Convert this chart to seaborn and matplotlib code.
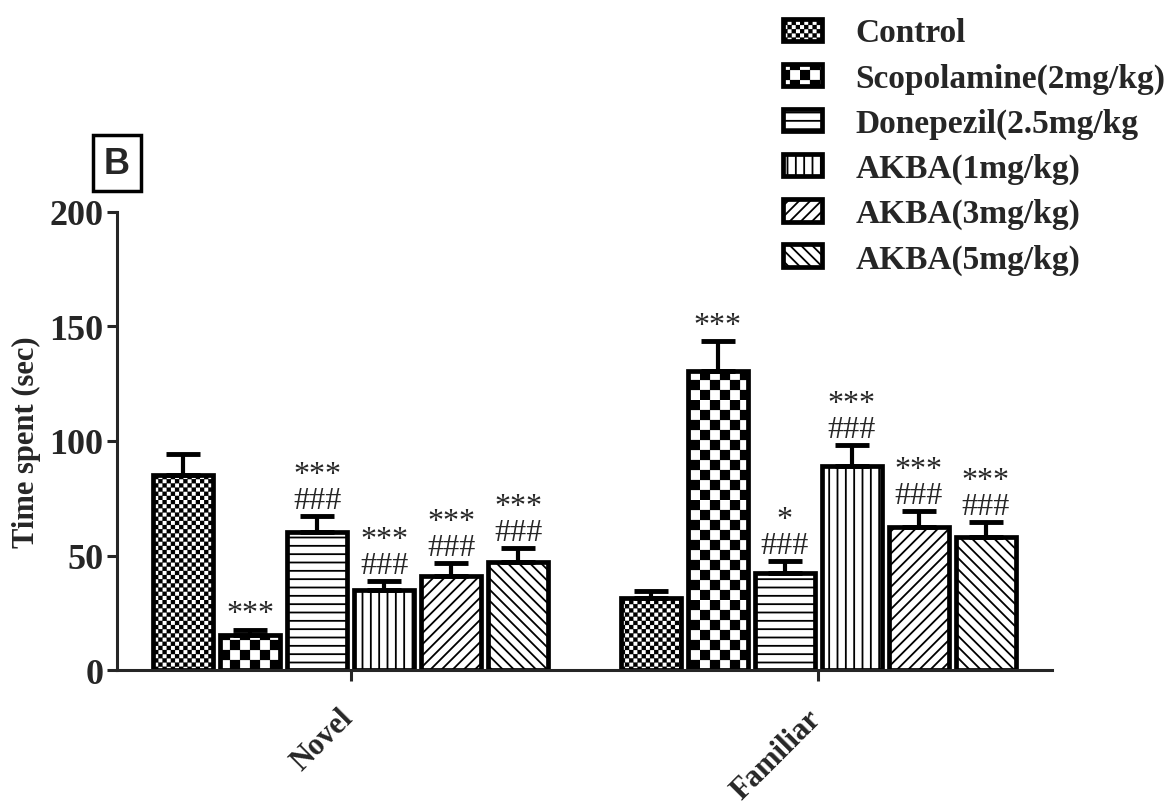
import numpy as np
import pandas as pd
import matplotlib
matplotlib.use('Agg')
import matplotlib.hatch as mhatch
import matplotlib.transforms as mtransforms
from matplotlib.path import Path
from matplotlib import pyplot as plt
import seaborn as sns

groups = ['Control', 'Scopolamine(2mg/kg)', 'Donepezil(2.5mg/kg', 'AKBA(1mg/kg)', 'AKBA(3mg/kg)', 'AKBA(5mg/kg)']
tests = ['Novel', 'Familiar']
novel_mean = [85.2, 15.3, 60.3, 35.0, 41.0, 47.2]
novel_sem = [9.1, 2.3, 6.9, 3.9, 5.7, 6.1]
familiar_mean = [31.4, 130.6, 42.4, 89.1, 62.4, 58.1]
familiar_sem = [3.1, 13.1, 5.2, 9.2, 7.0, 6.5]
novel_marks = ['', '***', '***\n###', '***\n###', '***\n###', '***\n###']
familiar_marks = ['', '***', '*\n###', '***\n###', '***\n###', '***\n###']
hatches = ['o', 'O', '--', '||', '///', '\\\\\\']


# checkerboard hatch: 'o' fine, 'O' coarse (replaces the circle hatches)
class CheckerHatch(mhatch.HatchPatternBase):
    def __init__(self, hatch, density):
        self.n = 0
        if 'o' in hatch:
            self.n = 24
        elif 'O' in hatch:
            self.n = 10
        self.cells = [(i, j) for i in range(self.n) for j in range(self.n) if (i + j) % 2 == 0]
        self.num_vertices = 5 * len(self.cells)

    def set_vertices_and_codes(self, vertices, codes):
        s = 1.0 / self.n
        d = 0.008
        for k, (i, j) in enumerate(self.cells):
            x0, y0 = i * s + d, j * s + d
            x1, y1 = (i + 1) * s - d, (j + 1) * s - d
            vertices[5 * k:5 * k + 5] = [(x0, y0), (x1, y0), (x1, y1), (x0, y1), (x0, y0)]
            codes[5 * k:5 * k + 5] = [Path.MOVETO, Path.LINETO, Path.LINETO, Path.LINETO, Path.CLOSEPOLY]


mhatch._hatch_types = [t for t in mhatch._hatch_types
                       if t not in (mhatch.SmallCircles, mhatch.LargeCircles)] + [CheckerHatch]

sns.set_style('ticks')
plt.rcParams['font.family'] = ['Liberation Serif', 'DejaVu Serif']
plt.rcParams['font.weight'] = 'bold'
plt.rcParams['hatch.linewidth'] = 1.3
plt.rcParams['hatch.color'] = 'black'

df = pd.DataFrame({
    'test': np.repeat(tests, len(groups)),
    'group': groups * len(tests),
    'time': novel_mean + familiar_mean,
})

fig, ax = plt.subplots(figsize=(11.69, 8.04), dpi=100)
ax.set_position([0.1001, 0.1654, 0.7998, 0.5697])

sns.barplot(data=df, x='test', y='time', hue='group', order=tests, hue_order=groups,
            palette=['white'] * len(groups), edgecolor='black', linewidth=3.4,
            width=0.86, gap=0.1, errorbar=None, legend=False, ax=ax)

means = np.array([novel_mean, familiar_mean])
sems = np.array([novel_sem, familiar_sem])
marks = [novel_marks, familiar_marks]
bar_conts = list(ax.containers)

for i, cont in enumerate(bar_conts):
    for j, bar in enumerate(cont.patches):
        bar.set_hatch(hatches[i])
        x = bar.get_x() + bar.get_width() / 2
        m, e = means[j][i], sems[j][i]
        ax.errorbar(x, m, yerr=[[0], [e]], fmt='none', ecolor='black', elinewidth=3,
                    capsize=12, capthick=3.5, zorder=1)
        if marks[j][i]:
            ax.annotate(marks[j][i], (x, m + e), xytext=(0, 1), textcoords='offset points',
                        ha='center', va='bottom', fontsize=23, fontweight='normal',
                        linespacing=0.85, multialignment='center')

ax.set_xlim(-0.5, 1.5)
ax.set_ylim(0, 200)
ax.set_yticks([0, 50, 100, 150, 200])
ax.set_xlabel('')
ax.set_ylabel('Time spent (sec)', fontsize=22, fontweight='bold', labelpad=6)
sns.despine(ax=ax)
for side in ['left', 'bottom']:
    ax.spines[side].set_linewidth(2.2)
ax.tick_params(axis='y', length=7, width=2.2, labelsize=26, pad=3)
ax.tick_params(axis='x', length=8, width=2.2, labelsize=22, pad=16)
shift = mtransforms.ScaledTranslation(-0.12, 0, fig.dpi_scale_trans)
for lab in ax.get_xticklabels():
    lab.set_rotation(45)
    lab.set_rotation_mode('anchor')
    lab.set_ha('right')
    lab.set_va('top')
    lab.set_transform(lab.get_transform() + shift)
for lab in ax.get_xticklabels() + ax.get_yticklabels():
    lab.set_fontweight('bold')

fig.legend(handles=bar_conts, labels=groups, loc='upper left',
           bbox_to_anchor=(0.67, 0.977), frameon=False, borderaxespad=0, borderpad=0,
           handlelength=1.17, handleheight=0.66, handletextpad=1.0, labelspacing=0.42,
           prop={'family': 'Liberation Serif', 'weight': 'bold', 'size': 24})

fig.text(0.1, 0.796, 'B', fontsize=26, fontweight='bold', family='Liberation Sans',
         ha='center', va='center',
         bbox=dict(boxstyle='square,pad=0.3', fc='white', ec='black', lw=2.5))

plt.savefig('out.png', dpi=100)
